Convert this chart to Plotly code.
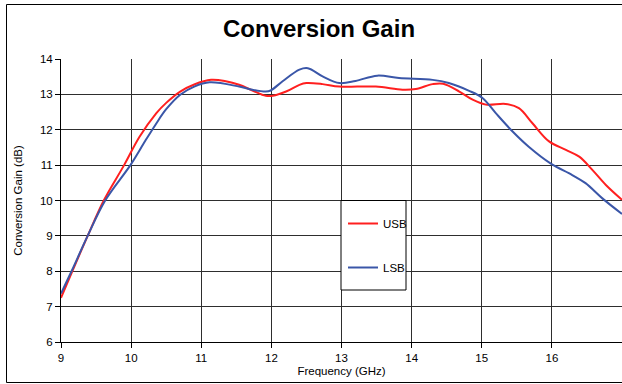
import plotly.graph_objects as go

# Conversion gain versus frequency, upper and lower sideband
usb_freq = [9.0, 9.15, 9.38, 9.61, 9.9, 10.12, 10.36, 10.5, 10.7, 10.9, 11.14,
            11.35, 11.54, 11.73, 11.92, 12.02, 12.21, 12.40, 12.5, 12.73, 12.97,
            13.49, 13.87, 14.06, 14.3, 14.45, 14.68, 14.87, 15.06, 15.34, 15.53,
            15.72, 15.96, 16.2, 16.39, 16.58, 16.77, 17.0]
usb_gain = [7.25, 7.95, 9.0, 10.0, 11.0, 11.8, 12.47, 12.76, 13.08, 13.28, 13.41,
            13.37, 13.27, 13.11, 12.96, 12.96, 13.08, 13.27, 13.32, 13.29, 13.22,
            13.22, 13.13, 13.15, 13.29, 13.3, 13.08, 12.85, 12.71, 12.73, 12.61,
            12.19, 11.67, 11.43, 11.24, 10.86, 10.44, 10.02]

lsb_freq = [9.0, 9.15, 9.38, 9.63, 9.99, 10.2, 10.35, 10.5, 10.7, 10.9, 11.12, 11.54,
            11.73, 11.92, 11.99, 12.16, 12.40, 12.52, 12.73, 12.97, 13.2, 13.51,
            13.82, 14.3, 14.53, 14.82, 15.01, 15.2, 15.44, 15.67, 15.98, 16.29,
            16.48, 16.72, 17.0]
lsb_gain = [7.37, 8.0, 9.0, 10.0, 11.0, 11.68, 12.15, 12.58, 12.99, 13.22, 13.34, 13.22,
            13.13, 13.08, 13.11, 13.37, 13.7, 13.74, 13.51, 13.32, 13.38, 13.53,
            13.46, 13.41, 13.32, 13.1, 12.9, 12.47, 11.95, 11.52, 11.05, 10.72,
            10.49, 10.06, 9.62]

x_ticks = [9, 10, 11, 12, 13, 14, 15, 16, 17]
y_ticks = [6, 7, 8, 9, 10, 11, 12, 13, 14]

W, H = 622, 384
ML, MR, MT, MB = 61, 0, 59, 42
PW, PH = W - ML - MR, H - MT - MB
FONT = "Arial, Liberation Sans, sans-serif"


def px(x):
    # page pixel column -> paper coordinate (relative to plot area)
    return (x - ML) / PW


def py(y):
    # page pixel row -> paper coordinate (relative to plot area)
    return (H - MB - y) / PH


fig = go.Figure()
fig.add_trace(go.Scatter(x=usb_freq, y=usb_gain, name="USB", mode="lines",
                         line=dict(color="#ff1f1f", width=2, shape="spline", smoothing=1.0),
                         legendgroup="usb"))
fig.add_trace(go.Scatter(x=lsb_freq, y=lsb_gain, name="LSB", mode="lines",
                         line=dict(color="#3a56a8", width=2, shape="spline", smoothing=1.0),
                         legendgroup="lsb"))

frame = dict(color="black", width=1)
fig.update_layout(
    width=W, height=H,
    margin=dict(l=ML, r=MR, t=MT, b=MB),
    paper_bgcolor="white", plot_bgcolor="white",
    font=dict(family=FONT, size=11.5, color="black"),
    showlegend=True,
    legend=dict(x=px(343), y=py(209), xanchor="left", yanchor="top",
                bgcolor="rgba(0,0,0,0)", borderwidth=0,
                tracegroupgap=25, font=dict(size=11.5)),
    xaxis=dict(range=[9, 17], tickvals=x_ticks, ticks="outside", ticklen=5,
               tickcolor="black", showgrid=True, gridcolor="#2e2e2e", gridwidth=1,
               showline=True, linecolor="black", linewidth=1, zeroline=False,
               title=dict(text="Frequency (GHz)", standoff=4, font=dict(size=11.5))),
    yaxis=dict(range=[6, 14], tickvals=y_ticks, ticks="outside", ticklen=5,
               tickcolor="black", showgrid=True, gridcolor="#2e2e2e", gridwidth=1,
               showline=True, linecolor="black", linewidth=1, zeroline=False,
               title=dict(text="Conversion Gain (dB)", standoff=14, font=dict(size=11.5))),
    shapes=[
        # chart frame (left, top, bottom)
        dict(type="line", xref="paper", yref="paper",
             x0=px(6.5), x1=px(6.5), y0=py(382.5), y1=py(4.5), line=frame),
        dict(type="line", xref="paper", yref="paper",
             x0=px(6.5), x1=px(630), y0=py(4.5), y1=py(4.5), line=frame),
        dict(type="line", xref="paper", yref="paper",
             x0=px(6.5), x1=px(630), y0=py(382.5), y1=py(382.5), line=frame),
        # legend box
        dict(type="rect", xref="paper", yref="paper",
             x0=px(341), x1=px(406), y0=py(290), y1=py(200.5),
             line=dict(color="black", width=1), fillcolor="white", layer="above"),
    ],
    annotations=[
        dict(text="<b>Conversion Gain</b>", xref="paper", yref="paper",
             x=px(319), y=py(28.5), xanchor="center", yanchor="middle",
             showarrow=False, font=dict(size=24, family=FONT, color="black")),
    ],
)

fig.write_html("out.html")
